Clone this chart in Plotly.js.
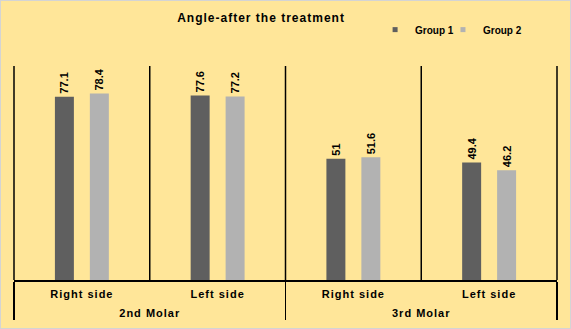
<!DOCTYPE html>
<html><head><meta charset="utf-8">
<script src="https://cdn.plot.ly/plotly-3.0.1.min.js"></script>
<style>html,body{margin:0;padding:0;background:#fff;}#c{width:569px;height:327px;border:1px solid #D4D4D4;}
#c .xtick text, #c .xtick2 text, #c .gtitle{letter-spacing:1px;}</style>
</head><body><div id="c"></div>
<script>
var molars = ["2nd Molar","2nd Molar","3rd Molar","3rd Molar"];
var sides = ["Right side","Left side","Right side","Left side"];
var group1 = [77.1, 77.6, 51, 49.4];
var group2 = [78.4, 77.2, 51.6, 46.2];
var seriesNames = ["Group 1","Group 2"];
var colors = ["#5F5F5F","#B2B2B2"];

var FAM = "Liberation Sans, Arial, sans-serif";
var fnt = {family:FAM, size:11, color:"#000", weight:"bold"};
var big = function(s){ return "<span style='font-size:11px'>" + s + "</span>"; };
var outerLabels = molars.map(function(s){ return "\u00A0<br>" + big(s); });
var innerLabels = sides.map(function(s){ return big(s) + "<br>\u00A0"; });

function mk(vals, i){
  return {type:"bar", name:seriesNames[i], x:[outerLabels, innerLabels], y:vals,
    marker:{color:colors[i]}, text:vals.map(String), textposition:"outside",
    textangle:-90, textfont:fnt, constraintext:"none", cliponaxis:false,
    hoverinfo:"none", showlegend:false};
}
function leg(i){
  return {type:"scatter", mode:"markers", name:seriesNames[i], x:[null], y:[null],
    marker:{symbol:"square", size:5, color:colors[i]}, showlegend:true, hoverinfo:"none",
    legend: i === 0 ? "legend" : "legend2"};
}
var shapes = [];
[0,0.25,0.5,0.75,1].forEach(function(p){
  shapes.push({type:"line", xref:"paper", yref:"paper", x0:p, x1:p, y0:0, y1:1,
    line:{color:"#000", width:1.5}});
});
var legFont = {family:FAM, size:10, color:"#000", weight:"bold"};
var layout = {
  width:569, height:327,
  margin:{l:13, r:13, t:65, b:48, autoexpand:false},
  paper_bgcolor:"#FFE699", plot_bgcolor:"#FFE699",
  title:{text:"Angle-after the treatment", x:0.457, xanchor:"center", y:0.95, yanchor:"middle",
    font:{family:FAM, size:12, color:"#000", weight:"bold"}},
  barmode:"group", bargap:0.485, bargroupgap:0.457,
  showlegend:true,
  legend:{orientation:"h", x:0.665, xanchor:"left", y:1.17, yanchor:"middle",
    font:legFont, bgcolor:"rgba(0,0,0,0)", itemwidth:30},
  legend2:{orientation:"h", x:0.79, xanchor:"left", y:1.17, yanchor:"middle",
    font:legFont, bgcolor:"rgba(0,0,0,0)", itemwidth:30},
  xaxis:{type:"multicategory", showline:true, linecolor:"#000", linewidth:1.5,
    tickfont:{family:FAM, size:6, color:"#000", weight:"bold"}, ticks:"", ticklabelstandoff:9,
    showdividers:true, dividercolor:"#000", dividerwidth:1.5,
    showgrid:false, zeroline:false, fixedrange:true},
  yaxis:{range:[0,90], showticklabels:false, showgrid:false, zeroline:false, showline:false, ticks:""},
  shapes:shapes
};
Plotly.newPlot("c", [mk(group1,0), mk(group2,1), leg(0), leg(1)], layout, {displayModeBar:false, staticPlot:true});
</script></body></html>
